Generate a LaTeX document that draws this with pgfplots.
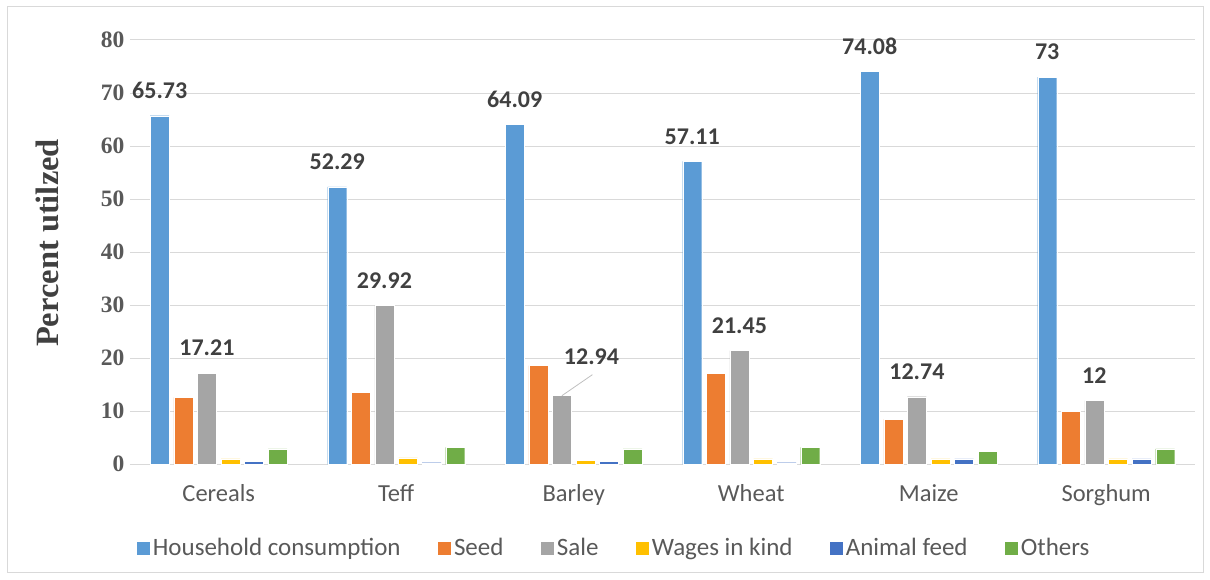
\documentclass[border=0pt]{standalone}
\usepackage{pgfplots}
\pgfplotsset{compat=1.18}
\usepackage{pgfplotstable}
\usepackage{fontspec}
\setmainfont{Carlito}
\newfontfamily\tnr{Liberation Serif}

\definecolor{cHH}{HTML}{5B9BD5}
\definecolor{cSeed}{HTML}{ED7D31}
\definecolor{cSale}{HTML}{A5A5A5}
\definecolor{cWage}{HTML}{FFC000}
\definecolor{cFeed}{HTML}{4472C4}
\definecolor{cOth}{HTML}{70AD47}
\definecolor{gridgray}{HTML}{D9D9D9}
\definecolor{txtgray}{HTML}{595959}
\definecolor{lblgray}{HTML}{404040}

% utilisation shares (%) per crop; dx/dy move a sale label off its default spot
\pgfplotstableread{
x  hh     seed  sale   wages  feed  others  dx    dy
0  65.73  12.6  17.21  1.0    0.5   2.9     0     0
1  52.29  13.6  29.92  1.2    0.3   3.2     0     0
2  64.09  18.6  12.94  0.8    0.5   2.9     29.6  14
3  57.11  17.2  21.45  1.0    0.3   3.2     0     0
4  74.08  8.5   12.74  1.0    1.0   2.45    0     0
5  73     10    12     1.0    1.0   2.9     0     0
}\crops

\begin{document}
\begin{tikzpicture}[x=1pt,y=1pt]
\path (0,0) rectangle (1210,580);
\draw[color=black!15, line width=1pt] (7,7) rectangle (1203,573);
\begin{axis}[
  at={(130pt,115.7pt)}, anchor=south west,
  scale only axis, width=1065pt, height=424.3pt,
  xmin=-0.5, xmax=5.5, ymin=0, ymax=80,
  ytick={0,10,...,80},
  xtick={0,...,5},
  xticklabels={Cereals,Teff,Barley,Wheat,Maize,Sorghum},
  ymajorgrids, grid style={color=gridgray, line width=1pt},
  axis line style={draw=none}, major tick length=0pt,
  /pgf/number format/assume math mode=true,
  yticklabel style={font=\tnr\bfseries\fontsize{23.5}{23.5}\selectfont, text=txtgray, xshift=-2pt},
  xticklabel style={font=\fontsize{24.5}{24.5}\selectfont, text=txtgray, yshift=-17pt},
  ylabel={Percent utilzed},
  every axis y label/.style={at={(axis description cs:-0.078,0.5216)}, anchor=center, rotate=90,
    font=\tnr\bfseries\fontsize{32.5}{32.5}\selectfont, text=lblgray},
  ybar=4.6pt, bar width=19pt,
  every axis plot/.append style={draw=white, line width=0.35pt},
  legend image code/.code={\fill[#1] (0pt,-7pt) rectangle (14pt,7pt);},
  legend style={at={(0.4545,-0.197)}, anchor=center, draw=none, fill=none,
    legend columns=6, font=\fontsize{25}{25}\selectfont, text=txtgray,
    /tikz/every even column/.append style={column sep=34pt},
    nodes={inner sep=2.5pt}},
  nodes near coords style={anchor=center, font=\bfseries\fontsize{24}{24}\selectfont, text=lblgray},
]
\addplot[fill=cHH, nodes near coords={\pgfmathprintnumber[fixed,precision=2]{\pgfplotspointmeta}},
  nodes near coords style={yshift=25pt}] table[x=x, y=hh] {\crops};
\addplot[fill=cSeed] table[x=x, y=seed] {\crops};
\addplot[fill=cSale, nodes near coords={\pgfmathprintnumber[fixed,precision=2]{\pgfplotspointmeta}},
  visualization depends on={\thisrow{dx} \as \dx},
  visualization depends on={\thisrow{dy} \as \dy},
  nodes near coords style={xshift=\dx pt, yshift={(25+\dy)*1pt}}] table[x=x, y=sale] {\crops};
\addplot[fill=cWage] table[x=x, y=wages] {\crops};
\addplot[fill=cFeed] table[x=x, y=feed] {\crops};
\addplot[fill=cOth] table[x=x, y=others] {\crops};
\legend{Household consumption, Seed, Sale, Wages in kind, Animal feed, Others}
% leader line from the Barley sale bar to its moved label
\draw[color=black!25, line width=0.8pt] ([xshift=-11.8pt]axis cs:2,12.94) -- ([xshift=18.7pt,yshift=21pt]axis cs:2,12.94);
\end{axis}
\end{tikzpicture}
\end{document}
